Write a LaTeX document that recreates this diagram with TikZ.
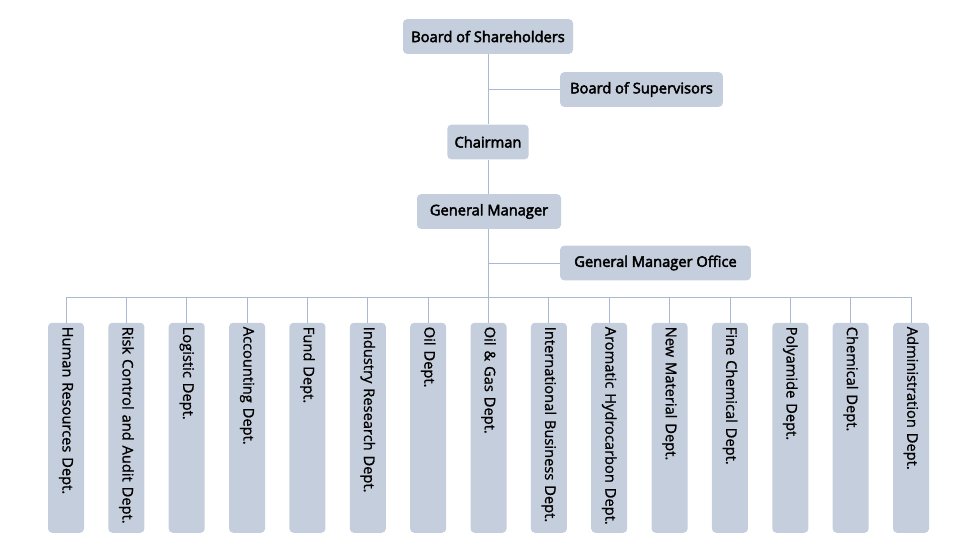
\documentclass[tikz,border=0pt]{standalone}
\usepackage{fontspec}
\setmainfont{Open Sans}
\newfontfamily\headfont{Open Sans}[FakeBold=3]
\newfontfamily\deptfont{Open Sans}[FakeBold=1]
\definecolor{boxfill}{HTML}{C5CEDC}
\definecolor{linkcol}{HTML}{A9B8D3}
\tikzset{
  topbox/.style={fill=boxfill, rounded corners=3pt, inner xsep=5pt,
    minimum height=26pt, font=\headfont\fontsize{11}{13}\selectfont},
  deptbox/.style={fill=boxfill, rounded corners=3pt, rotate=-90, anchor=west,
    text width=151.5pt, align=left, inner xsep=3pt, minimum height=27pt,
    font=\deptfont\fontsize{11}{13}\selectfont},
  link/.style={draw=linkcol, line width=0.6pt}
}
\begin{document}
\begin{tikzpicture}[x=0.75pt, y=-0.75pt]
    \useasboundingbox (0,0) rectangle (979,551);

    % Management chain
    \node[topbox, minimum width=127.5pt] (bsh) at (488,36.5) {Board of Shareholders};
    \node[topbox, minimum width=122pt] (bsup) at (641.5,89.5) {Board of Supervisors};
    \node[topbox, minimum width=61pt] (chair) at (488,142) {Chairman};
    \node[topbox, minimum width=108pt] (gm) at (489,211.5) {General Manager};
    \node[topbox, minimum width=143pt] (gmo) at (655.5,263) {General Manager Office};

    \draw[link] (bsh) -- (chair);
    \draw[link] (chair) -- (chair |- gm.north);
    \draw[link] (bsup.west) -- (bsup.west -| bsh);
    \draw[link] (gmo.west) -- (gmo.west -| bsh);

    % Departments hang from one bus line below the general manager
    \coordinate (bus) at (488,297);
    \foreach \i/\dept in {
        1/Human Resources Dept.,
        2/Risk Control and Audit Dept.,
        3/Logistic Dept.,
        4/Accounting Dept.,
        5/Fund Dept.,
        6/Industry Research Dept.,
        7/Oil Dept.,
        8/Oil \& Gas Dept.,
        9/International Business Dept.,
        10/Aromatic Hydrocarbon Dept.,
        11/New Material Dept.,
        12/Fine Chemical Dept.,
        13/Polyamide Dept.,
        14/Chemical Dept.,
        15/Administration Dept.
    } {
        \node[deptbox] (d\i) at ({66+60.36*(\i-1)},322.5) {\mbox{\dept}};
        \draw[link] (d\i.west) -- (d\i.west |- bus);
    }
    \draw[link] (d1.west |- bus) -- (d15.west |- bus);
    \draw[link] (bus |- gm.south) -- (bus);
\end{tikzpicture}
\end{document}
